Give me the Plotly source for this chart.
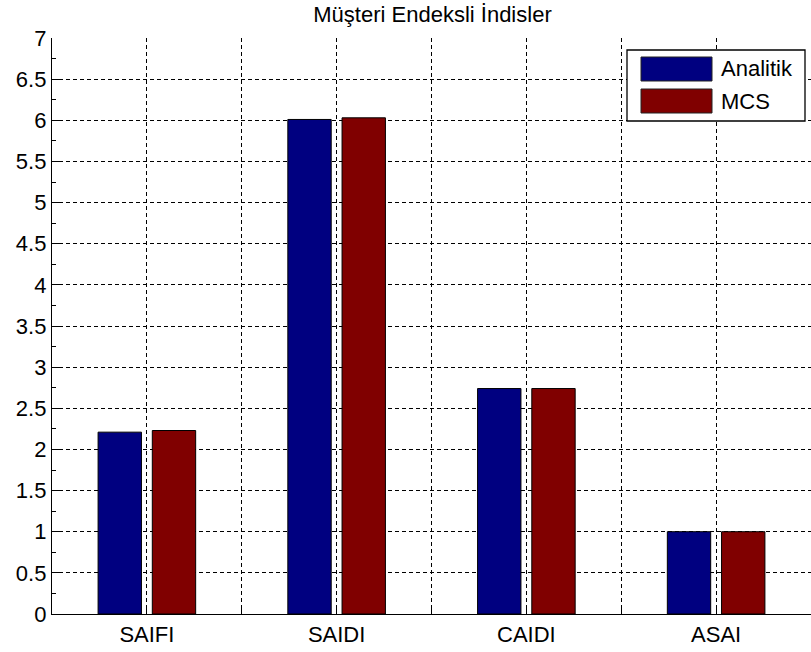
import plotly.graph_objects as go

# Reliability indices: analytical vs Monte Carlo simulation
categories = ["SAIFI", "SAIDI", "CAIDI", "ASAI"]
positions = [1, 2, 3, 4]
analitik = [2.21, 6.01, 2.74, 1.0]
mcs = [2.23, 6.03, 2.74, 1.0]
series_names = ["Analitik", "MCS"]
series_colors = ["#000080", "#800000"]

y_ticks = [0, 0.5, 1, 1.5, 2, 2.5, 3, 3.5, 4, 4.5, 5, 5.5, 6, 6.5, 7]
x_ticks = [1, 1.5, 2, 2.5, 3, 3.5, 4]
x_ticktext = ["SAIFI", "", "SAIDI", "", "CAIDI", "", "ASAI"]

FONT = "Liberation Sans, Arial, sans-serif"
FS = 22

fig = go.Figure()
for name, vals, col in zip(series_names, [analitik, mcs], series_colors):
    fig.add_trace(go.Bar(
        x=positions, y=vals, name=name,
        marker=dict(color=col, line=dict(color="black", width=1)),
        showlegend=False,
    ))

W, H = 811, 652
L, R, T, B = 52, 0, 38, 38
pw, ph = W - L - R, H - T - B


def px_x(p):
    return (p - L) / pw


def px_y(p):
    return (H - B - p) / ph


# legend drawn as a boxed key in the upper right
shapes = [dict(type="rect", xref="paper", yref="paper",
               x0=px_x(627), x1=px_x(805), y0=px_y(121), y1=px_y(50),
               line=dict(color="black", width=1.3), fillcolor="white", layer="above")]
annotations = []
rows = [(57, 81), (89, 113)]
for (ya, yb), name, col in zip(rows, series_names, series_colors):
    shapes.append(dict(type="rect", xref="paper", yref="paper",
                       x0=px_x(641), x1=px_x(712), y0=px_y(yb), y1=px_y(ya),
                       line=dict(color="#222222", width=1), fillcolor=col, layer="above"))
    annotations.append(dict(xref="paper", yref="paper", x=px_x(719), y=px_y((ya + yb) / 2),
                            text=name, showarrow=False, xanchor="left", yanchor="middle",
                            font=dict(family=FONT, size=FS, color="black")))

fig.update_layout(
    width=W, height=H,
    margin=dict(l=L, r=R, t=T, b=B, pad=0),
    paper_bgcolor="white", plot_bgcolor="white",
    barmode="group", bargap=0.4286, bargroupgap=0.2,
    title=dict(text="Müşteri Endeksli İndisler", x=432.5 / W,
               xanchor="center", y=1 - 14 / H, yanchor="middle",
               font=dict(family=FONT, size=FS, color="black")),
    font=dict(family=FONT, size=FS, color="black"),
    shapes=shapes, annotations=annotations,
    xaxis=dict(range=[0.5, 4.5], tickmode="array", tickvals=x_ticks, ticktext=x_ticktext,
               showgrid=True, gridcolor="black", gridwidth=1, griddash="4px,3px",
               showline=True, linecolor="black", linewidth=1.3,
               ticks="inside", ticklen=6, tickcolor="black", zeroline=False,
               tickfont=dict(family=FONT, size=FS, color="black")),
    yaxis=dict(range=[0, 7], tickmode="array", tickvals=y_ticks,
               ticktext=[f"{v:g}" for v in y_ticks],
               showgrid=True, gridcolor="black", gridwidth=1, griddash="4px,3px",
               showline=True, linecolor="black", linewidth=1.3,
               ticks="inside", ticklen=8, tickcolor="black", zeroline=False,
               minor=dict(dtick=0.25, ticks="inside", ticklen=4, tickcolor="black", showgrid=False),
               tickfont=dict(family=FONT, size=FS, color="black")),
)

fig.write_html("out.html")
